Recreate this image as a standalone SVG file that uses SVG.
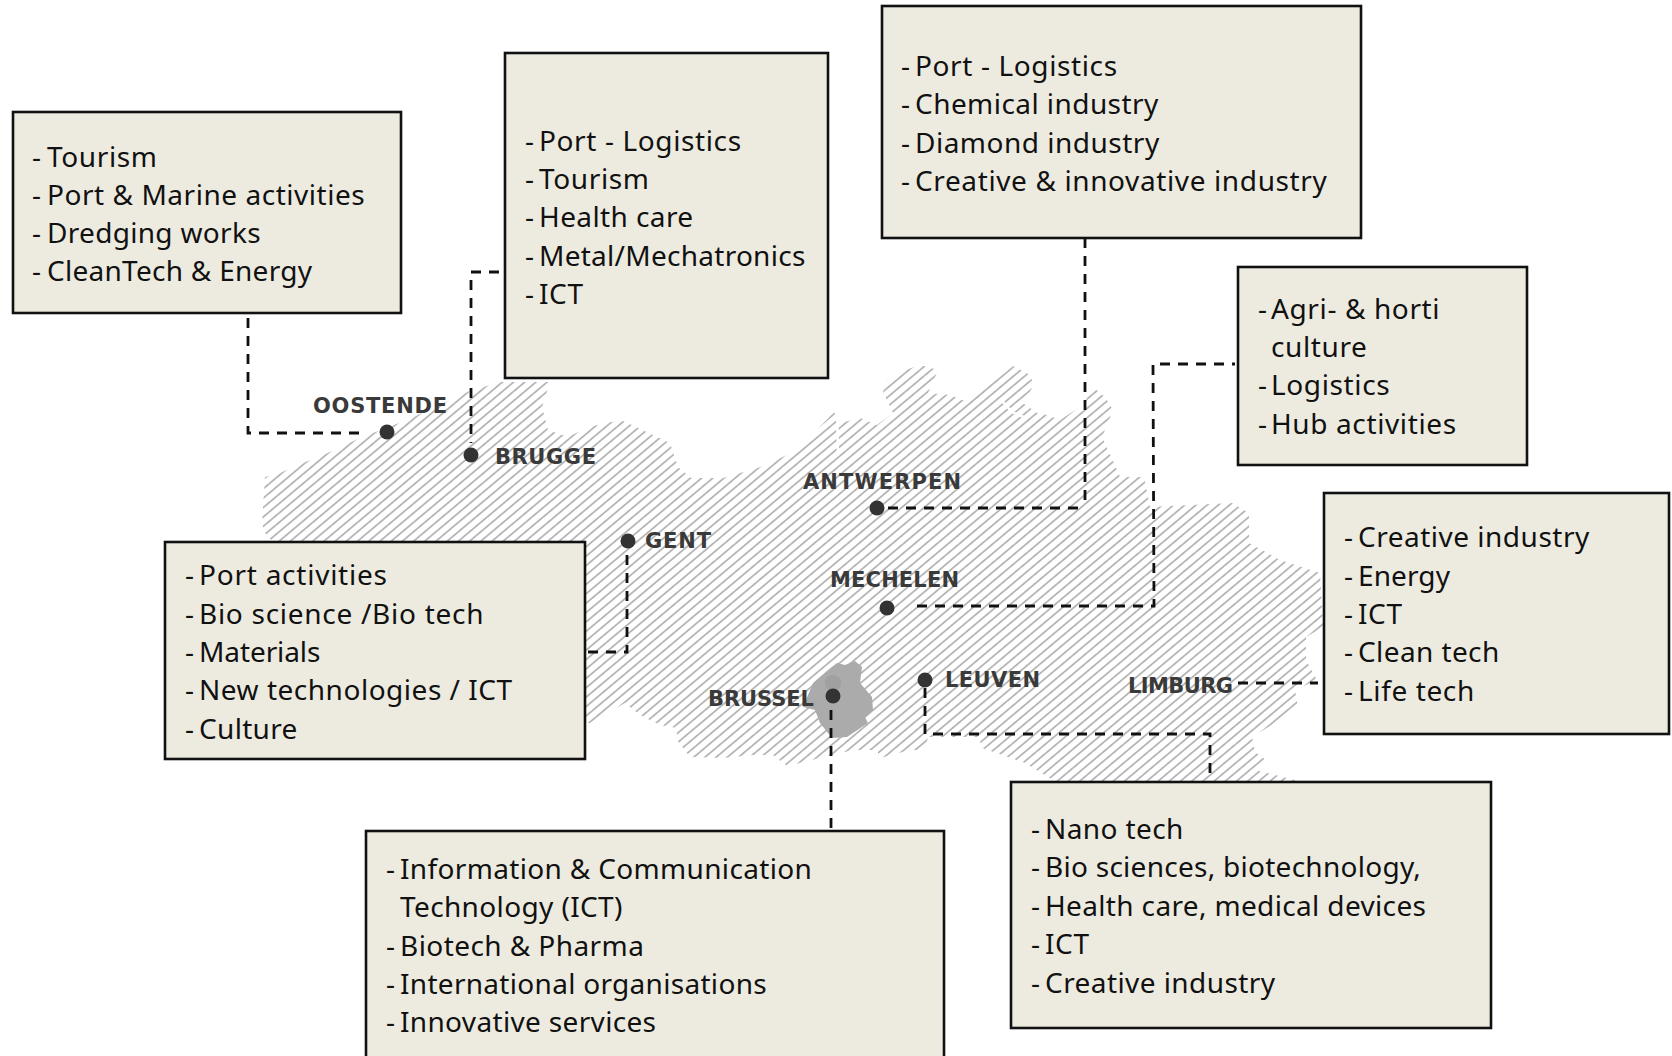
<svg xmlns="http://www.w3.org/2000/svg" width="1672" height="1056" viewBox="0 0 1672 1056">
<style>
.box{fill:#edebe0;stroke:#111;stroke-width:2.6}
.t{font-family:"Noto Sans","Open Sans",sans-serif;font-size:28px;letter-spacing:.62px;fill:#111}
.city{font-family:"DejaVu Sans","Noto Sans",sans-serif;font-size:21px;font-weight:700;fill:#3a3a3a}
.dot{fill:#333}
.c{fill:none;stroke:#111;stroke-width:2.8;stroke-dasharray:10 8}
</style>
<defs>
<pattern id="hatch" width="20" height="7.2" patternUnits="userSpaceOnUse" patternTransform="rotate(-40)">
<rect width="20" height="7.2" fill="#fff"/>
<line x1="0" y1="3.6" x2="20" y2="3.6" stroke="#adadad" stroke-width="1.6"/>
</pattern>
</defs>
<g id="map">
<path fill="url(#hatch)" d="M265 477L280 473L303 463L330 452L360 438L407 420L467 392L500 382L550 382L542 407L548 430L568 437L589 427L621 420L670 443L678 467L691 478L723 478L761 467L798 450L834 412L840 423L860 418L877 425L893 413L883 392L887 380L900 372L920 365L938 370L933 382L928 393L950 395L967 402L973 398L1013 366L1027 373L1032 380L1032 388L1023 403L1037 413L1047 415L1060 420L1083 405L1093 387L1105 397L1113 410L1102 437L1108 450L1115 465L1120 477L1144 477L1150 507L1232 503L1249 513L1249 543L1280 560L1320 573L1323 627L1306 637L1306 660L1317 680L1295 690L1298 707L1275 723L1252 737L1255 752L1269 762L1255 770L1295 780L1295 790L1053 790L1053 780L1025 763L982 748L979 737L928 737L925 750L910 750L880 758L877 750L853 750L820 758L787 766L773 755L753 755L723 758L690 757L677 740L677 728L660 725L640 715L625 703L590 723L400 723L273 560L273 542L265 533L262 523Z"/>
<path fill="none" stroke="#fff" stroke-width="2.5" d="M837 412L838 455M1003 402L1012 412L1026 418"/>
<path fill="#ababab" d="M803 707L813 683L828 670L837 663L845 665L855 661L862 667L860 683L872 697L873 710L865 717L868 723L847 737L832 738L820 723L815 710Z"/>
<circle cx="833" cy="683" r="8" fill="#a0a0a0"/>
</g>
<g id="connectors">
<path class="c" d="M248 318V433H367"/>
<path class="c" d="M499 272H471V443"/>
<path class="c" d="M888 508H1085"/>
<path class="c" d="M1085 238V508"/>
<path class="c" d="M917 606H1154L1153 364H1235"/>
<path class="c" d="M1238 683H1318"/>
<path class="c" d="M925 688V734H1210V782"/>
<path class="c" d="M831 710V831"/>
<path class="c" d="M627 555V652H585"/>
</g>
<g id="oostende"><circle class="dot" cx="387" cy="432" r="7.5"/><text class="city" x="313" y="413" textLength="134">OOSTENDE</text></g>
<g id="brugge"><circle class="dot" cx="471" cy="455" r="7.5"/><text class="city" x="495" y="464" textLength="101">BRUGGE</text></g>
<g id="gent"><circle class="dot" cx="628" cy="541" r="7.5"/><text class="city" x="645" y="548" textLength="66">GENT</text></g>
<g id="antwerpen"><circle class="dot" cx="877" cy="508" r="7.5"/><text class="city" x="803" y="489" textLength="158">ANTWERPEN</text></g>
<g id="mechelen"><circle class="dot" cx="887" cy="608" r="7.5"/><text class="city" x="830" y="587" textLength="129">MECHELEN</text></g>
<g id="leuven"><circle class="dot" cx="925" cy="680" r="7.5"/><text class="city" x="945" y="687" textLength="95">LEUVEN</text></g>
<g id="brussel"><circle class="dot" cx="833" cy="696" r="7.5"/><text class="city" x="708" y="706" textLength="106">BRUSSEL</text></g>
<g id="limburg"><text class="city" x="1128" y="693" textLength="105">LIMBURG</text></g>
<g id="box-oostende"><rect class="box" x="13" y="112" width="388" height="201"/>
<text class="t" y="167"><tspan x="32">-</tspan><tspan x="47">Tourism</tspan></text>
<text class="t" y="205"><tspan x="32">-</tspan><tspan x="47" letter-spacing=".54">Port &amp; Marine activities</tspan></text>
<text class="t" y="243"><tspan x="32">-</tspan><tspan x="47" letter-spacing=".31">Dredging works</tspan></text>
<text class="t" y="281"><tspan x="32">-</tspan><tspan x="47" letter-spacing=".27">CleanTech &amp; Energy</tspan></text></g>
<g id="box-brugge"><rect class="box" x="505" y="53" width="323" height="325"/>
<text class="t" y="151"><tspan x="525">-</tspan><tspan x="539">Port - Logistics</tspan></text>
<text class="t" y="189"><tspan x="525">-</tspan><tspan x="539">Tourism</tspan></text>
<text class="t" y="227"><tspan x="525">-</tspan><tspan x="539" letter-spacing=".4">Health care</tspan></text>
<text class="t" y="266"><tspan x="525">-</tspan><tspan x="539" letter-spacing=".27">Metal/Mechatronics</tspan></text>
<text class="t" y="304"><tspan x="525">-</tspan><tspan x="539">ICT</tspan></text></g>
<g id="box-antwerpen"><rect class="box" x="882" y="6" width="479" height="232"/>
<text class="t" y="76"><tspan x="901">-</tspan><tspan x="915">Port - Logistics</tspan></text>
<text class="t" y="114"><tspan x="901">-</tspan><tspan x="915" letter-spacing=".44">Chemical industry</tspan></text>
<text class="t" y="153"><tspan x="901">-</tspan><tspan x="915" letter-spacing=".5">Diamond industry</tspan></text>
<text class="t" y="191"><tspan x="901">-</tspan><tspan x="915">Creative &amp; innovative industry</tspan></text></g>
<g id="box-mechelen"><rect class="box" x="1238" y="267" width="289" height="198"/>
<text class="t" y="319"><tspan x="1258">-</tspan><tspan x="1271">Agri- &amp; horti</tspan></text>
<text class="t" y="357"><tspan x="1271">culture</tspan></text>
<text class="t" y="395"><tspan x="1258">-</tspan><tspan x="1271">Logistics</tspan></text>
<text class="t" y="434"><tspan x="1258">-</tspan><tspan x="1271">Hub activities</tspan></text></g>
<g id="box-limburg"><rect class="box" x="1324" y="493" width="345" height="241"/>
<text class="t" y="547"><tspan x="1344">-</tspan><tspan x="1358" letter-spacing=".5">Creative industry</tspan></text>
<text class="t" y="586"><tspan x="1344">-</tspan><tspan x="1358" letter-spacing=".1">Energy</tspan></text>
<text class="t" y="624"><tspan x="1344">-</tspan><tspan x="1358">ICT</tspan></text>
<text class="t" y="662"><tspan x="1344">-</tspan><tspan x="1358" letter-spacing=".4">Clean tech</tspan></text>
<text class="t" y="701"><tspan x="1344">-</tspan><tspan x="1358">Life tech</tspan></text></g>
<g id="box-gent"><rect class="box" x="165" y="542" width="420" height="217"/>
<text class="t" y="585"><tspan x="185">-</tspan><tspan x="199" letter-spacing=".76">Port activities</tspan></text>
<text class="t" y="624"><tspan x="185">-</tspan><tspan x="199" letter-spacing=".72">Bio science /Bio tech</tspan></text>
<text class="t" y="662"><tspan x="185">-</tspan><tspan x="199" letter-spacing="-.09">Materials</tspan></text>
<text class="t" y="700"><tspan x="185">-</tspan><tspan x="199" letter-spacing=".52">New technologies / ICT</tspan></text>
<text class="t" y="739"><tspan x="185">-</tspan><tspan x="199" letter-spacing=".32">Culture</tspan></text></g>
<g id="box-brussel"><rect class="box" x="366" y="831" width="578" height="240"/>
<text class="t" y="879"><tspan x="386">-</tspan><tspan x="400" letter-spacing=".34">Information &amp; Communication</tspan></text>
<text class="t" y="917"><tspan x="400" letter-spacing=".37">Technology (ICT)</tspan></text>
<text class="t" y="956"><tspan x="386">-</tspan><tspan x="400" letter-spacing=".43">Biotech &amp; Pharma</tspan></text>
<text class="t" y="994"><tspan x="386">-</tspan><tspan x="400" letter-spacing=".3">International organisations</tspan></text>
<text class="t" y="1032"><tspan x="386">-</tspan><tspan x="400" letter-spacing=".34">Innovative services</tspan></text></g>
<g id="box-leuven"><rect class="box" x="1011" y="782" width="480" height="246"/>
<text class="t" y="839"><tspan x="1031">-</tspan><tspan x="1045" letter-spacing=".4">Nano tech</tspan></text>
<text class="t" y="877"><tspan x="1031">-</tspan><tspan x="1045" letter-spacing=".27">Bio sciences, biotechnology,</tspan></text>
<text class="t" y="916"><tspan x="1031">-</tspan><tspan x="1045" letter-spacing=".35">Health care, medical devices</tspan></text>
<text class="t" y="954"><tspan x="1031">-</tspan><tspan x="1045">ICT</tspan></text>
<text class="t" y="993"><tspan x="1031">-</tspan><tspan x="1045" letter-spacing=".43">Creative industry</tspan></text></g>
</svg>
